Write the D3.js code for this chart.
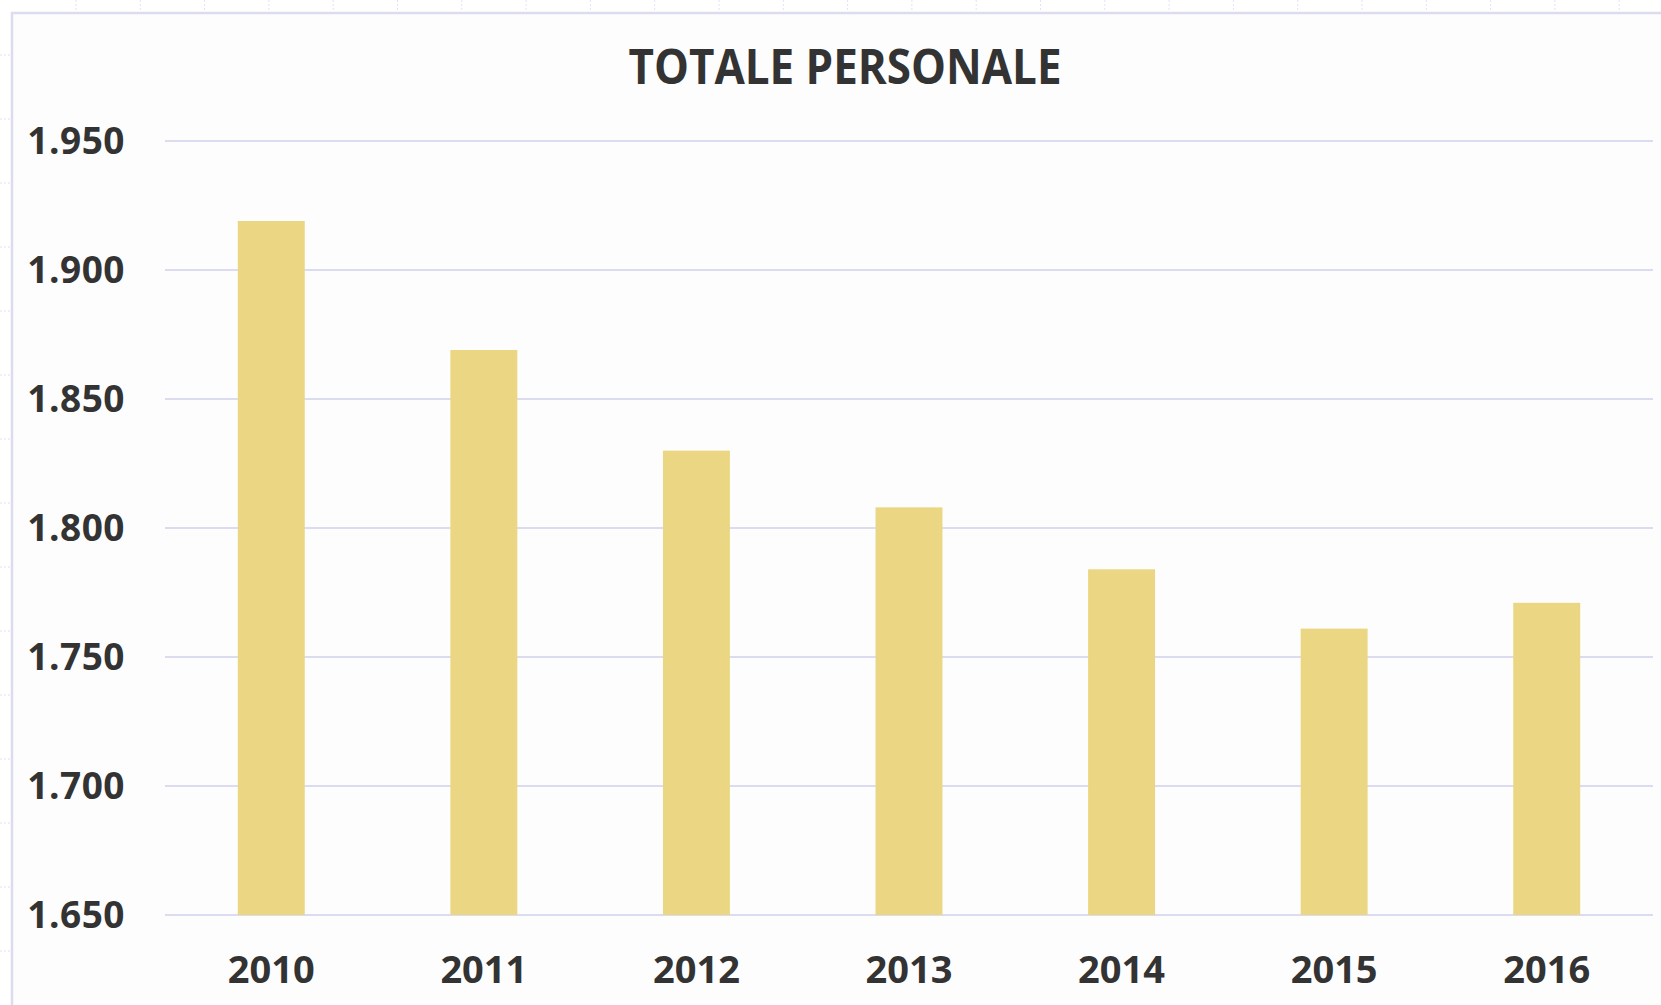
<!DOCTYPE html>
<html>

<head>
    <meta charset="utf-8">
    <style>
        body {
            margin: 0;
            background: #ffffff;
        }

        svg {
            display: block;
            font-family: 'Open Sans', sans-serif;
        }

        .tick-label {
            font-weight: bold;
            fill: #333;
        }
    </style>
</head>

<body>
    <svg width="1661" height="1005"></svg>
</body>

<script src="https://d3js.org/d3.v7.min.js"></script>

<script>

    // chart values
    let years = ["2010", "2011", "2012", "2013", "2014", "2015", "2016"]
    let staff = [1919, 1869, 1830, 1808, 1784, 1761, 1771]
    let yTicks = [1650, 1700, 1750, 1800, 1850, 1900, 1950]
    let title = "TOTALE PERSONALE"

    let width = 1661
    let height = 1005

    let svg = d3.select("svg")

    // sheet background behind the chart object
    svg.append("rect")
        .attr("width", width)
        .attr("height", height)
        .style("fill", "#ffffff")

    // faint spreadsheet cell lines peeking out around the chart frame
    svg.selectAll(".col-mark")
        .data(d3.range(76, width, 64.3))
        .join("line")
        .attr("x1", d => d).attr("x2", d => d)
        .attr("y1", 0).attr("y2", 11)
        .style("stroke", "#dfe3f5")
        .style("stroke-width", 1)
        .style("stroke-dasharray", "2,2")

    svg.selectAll(".row-mark")
        .data(d3.range(55, height, 64))
        .join("line")
        .attr("x1", 0).attr("x2", 10)
        .attr("y1", d => d).attr("y2", d => d)
        .style("stroke", "#dfe3f5")
        .style("stroke-width", 1)
        .style("stroke-dasharray", "2,2")

    // chart area
    svg.append("rect")
        .attr("x", 12)
        .attr("y", 13)
        .attr("width", width)
        .attr("height", height)
        .style("fill", "#fdfdfd")
        .style("stroke", "#dcdcf0")
        .style("stroke-width", 2.5)

    let plot = { left: 165, right: 1653, top: 141, bottom: 915 }

    let x = d3.scaleBand()
        .domain(years)
        .range([plot.left, plot.right])
        .paddingInner(0.685)
        .paddingOuter(0.3425)

    let y = d3.scaleLinear()
        .domain([1650, 1950])
        .range([plot.bottom, plot.top])

    // gridlines
    svg.selectAll(".grid")
        .data(yTicks)
        .join("line")
        .attr("class", "grid")
        .attr("x1", plot.left)
        .attr("x2", plot.right)
        .attr("y1", d => y(d))
        .attr("y2", d => y(d))
        .style("stroke", "#dcdcf0")
        .style("stroke-width", 2)

    // bars
    svg.selectAll(".bar")
        .data(staff)
        .join("rect")
        .attr("class", "bar")
        .attr("x", (d, i) => x(years[i]))
        .attr("width", x.bandwidth())
        .attr("y", d => y(d))
        .attr("height", d => y(1650) - y(d))
        .style("fill", "#ebd783")

    // y labels
    let fmt = d => d3.format(",")(d).replace(",", ".")

    svg.selectAll(".y-label")
        .data(yTicks)
        .join("text")
        .attr("class", "tick-label")
        .attr("x", 125)
        .attr("y", d => y(d) + 13)
        .attr("text-anchor", "end")
        .style("font-size", "37px")
        .style("letter-spacing", "0.5px")
        .text(d => fmt(d))

    // x labels
    svg.selectAll(".x-label")
        .data(years)
        .join("text")
        .attr("class", "tick-label")
        .attr("x", d => x(d) + x.bandwidth() / 2)
        .attr("y", 983)
        .attr("text-anchor", "middle")
        .style("font-size", "38px")
        .text(d => d)

    // title
    svg.append("text")
        .attr("x", 845)
        .attr("y", 84)
        .attr("text-anchor", "middle")
        .attr("textLength", 433)
        .attr("lengthAdjust", "spacingAndGlyphs")
        .style("font-size", "48px")
        .style("font-weight", "bold")
        .style("fill", "#333")
        .text(title)

</script>

</html>
